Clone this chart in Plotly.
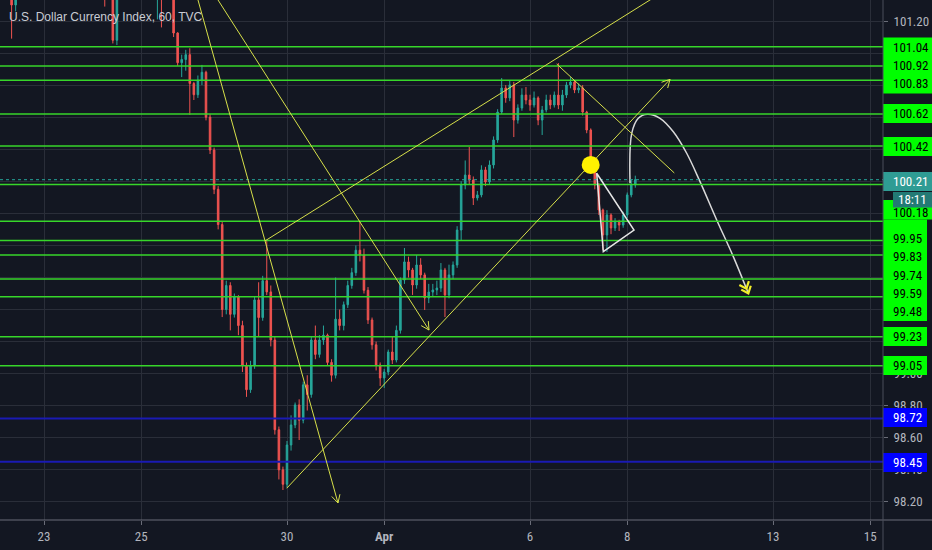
import math
import plotly.graph_objects as go

# ---------------- data ----------------
title_text = "U.S. Dollar Currency Index, 60, TVC"
# 2-hour bars, position in trading hours since 23 Mar 00:00 (weekends removed)
bar_hours = list(range(-20, 294, 2))
first_open = 101.85
closes = [
    101.92, 101.70, 101.30, 101.58, 101.74, 101.86, 102.05, 101.96, 102.18, 102.30,
    102.42, 102.20, 102.05, 101.82, 101.66, 101.78, 101.95, 102.14, 102.30, 102.22,
    102.08, 101.90, 101.74, 101.60, 101.52, 101.48, 101.56, 101.08, 101.45, 101.66,
    101.80, 101.92, 101.84, 101.70, 101.62, 101.74, 101.58, 101.44, 101.52, 101.36,
    101.55, 101.48, 101.125, 100.94, 100.96, 100.99, 100.81, 100.74, 100.83, 100.88,
    100.60, 100.395, 100.15, 99.93, 99.40, 99.55, 99.37, 99.48, 99.30, 99.05,
    98.90, 99.05, 99.46, 99.35, 99.58, 99.51, 99.21, 98.65, 98.40, 98.31,
    98.555, 98.68, 98.805, 98.71, 98.93, 98.87, 99.21, 99.12, 99.21, 99.24,
    99.07, 98.99, 99.34, 99.30, 99.43, 99.55, 99.63, 99.77, 99.74, 99.52,
    99.335, 99.18, 99.054, 98.973, 99.01, 99.135, 99.085, 99.27, 99.584, 99.697,
    99.647, 99.553, 99.678, 99.616, 99.472, 99.509, 99.522, 99.534, 99.647, 99.491,
    99.616, 99.678, 99.896, 100.177, 100.239, 100.208, 100.096, 100.115, 100.271, 100.196,
    100.302, 100.458, 100.632, 100.782, 100.72, 100.801, 100.582, 100.657, 100.738, 100.707,
    100.676, 100.72, 100.582, 100.645, 100.707, 100.676, 100.738, 100.676, 100.738, 100.801,
    100.819, 100.77, 100.782, 100.632, 100.52, 100.345, 100.177, 100.021, 99.865, 99.99,
    99.909, 99.946, 99.927, 99.99, 100.115, 100.177, 100.21,
]
highs = [
    101.98, 101.95, 101.74, 101.66, 101.82, 101.95, 102.12, 102.10, 102.25, 102.40,
    102.55, 102.48, 102.26, 102.10, 101.88, 101.85, 102.02, 102.22, 102.38, 102.40,
    102.28, 102.12, 101.95, 101.78, 101.66, 101.58, 101.62, 101.60, 101.52, 101.72,
    101.88, 102.00, 102.00, 101.88, 101.76, 101.82, 101.78, 101.62, 101.58, 101.55,
    101.62, 101.62, 101.50, 101.13, 100.99, 101.02, 101.03, 100.82, 100.86, 100.926,
    100.89, 100.62, 100.41, 100.17, 99.95, 99.58, 99.57, 99.50, 99.49, 99.33,
    99.07, 99.08, 99.48, 99.57, 99.61, 99.828, 99.55, 99.23, 98.67, 98.42,
    98.58, 98.74, 98.82, 98.84, 98.95, 98.99, 99.23, 99.30, 99.24, 99.30,
    99.25, 99.09, 99.60, 99.40, 99.45, 99.58, 99.66, 99.80, 99.95, 99.78,
    99.54, 99.35, 99.20, 99.07, 99.03, 99.15, 99.23, 99.30, 99.60, 99.784,
    99.73, 99.66, 99.74, 99.72, 99.63, 99.56, 99.56, 99.58, 99.69, 99.66,
    99.68, 99.70, 99.92, 100.20, 100.33, 100.414, 100.23, 100.14, 100.30, 100.29,
    100.33, 100.48, 100.65, 100.844, 100.80, 100.832, 100.82, 100.68, 100.78, 100.788,
    100.74, 100.76, 100.73, 100.67, 100.74, 100.74, 100.76, 100.938, 100.77, 100.82,
    100.85, 100.83, 100.81, 100.80, 100.64, 100.53, 100.35, 100.19, 100.03, 100.02,
    100.00, 99.97, 99.96, 100.01, 100.13, 100.21, 100.235,
]
lows = [
    101.80, 101.62, 101.09, 101.26, 101.55, 101.70, 101.84, 101.90, 101.93, 102.14,
    102.25, 102.12, 101.96, 101.74, 101.55, 101.60, 101.72, 101.90, 102.08, 102.15,
    102.00, 101.82, 101.66, 101.50, 101.42, 101.29, 101.40, 101.06, 101.05, 101.40,
    101.60, 101.74, 101.78, 101.62, 101.55, 101.56, 101.50, 101.38, 101.21, 101.16,
    101.34, 101.40, 101.10, 100.92, 100.85, 100.89, 100.614, 100.707, 100.72, 100.80,
    100.58, 100.37, 100.12, 99.90, 99.353, 99.37, 99.27, 99.35, 99.24, 99.01,
    98.855, 98.88, 99.03, 99.23, 99.33, 99.49, 99.17, 98.62, 98.34, 98.274,
    98.29, 98.52, 98.66, 98.586, 98.69, 98.77, 98.85, 99.09, 99.10, 99.18,
    99.05, 98.95, 98.97, 99.27, 99.27, 99.41, 99.53, 99.61, 99.70, 99.50,
    99.31, 99.15, 99.02, 98.923, 98.911, 98.99, 99.06, 99.07, 99.25, 99.56,
    99.60, 99.491, 99.53, 99.59, 99.397, 99.44, 99.48, 99.49, 99.51, 99.353,
    99.47, 99.59, 99.66, 99.834, 100.15, 100.18, 100.052, 100.08, 100.10, 100.17,
    100.18, 100.28, 100.44, 100.62, 100.69, 100.70, 100.476, 100.56, 100.64, 100.68,
    100.64, 100.66, 100.55, 100.489, 100.63, 100.65, 100.66, 100.65, 100.64, 100.72,
    100.78, 100.75, 100.75, 100.61, 100.50, 100.32, 100.15, 99.99, 99.771, 99.759,
    99.87, 99.89, 99.89, 99.91, 99.97, 100.10, 100.16,
]
day_ticks = [0, 2, 5, 7, 10, 12, 15, 17]
day_labels = ["23", "25", "30", "<b>Apr</b>", "6", "8", "13", "15"]
price_ticks = [98.20, 98.40, 98.60, 98.80, 99.00, 99.20, 99.40, 99.60, 99.80,
               100.00, 100.20, 100.40, 100.60, 100.80, 101.00, 101.20]
# ticks whose label is completely hidden behind a price-label box in the reference
hidden_ticks = [99.20, 99.40, 99.60, 99.80, 100.00, 100.20, 100.40, 100.60, 100.80, 101.00]
green_levels = [101.04, 100.92, 100.83, 100.62, 100.42, 100.18, 99.95, 99.83,
                99.74, 99.59, 99.48, 99.23, 99.05]
blue_levels = [98.72, 98.45]
last_price = 100.21
countdown = "18:11"

# drawings anchored in (trading day, price)
trend_lines = [  # (start, end, arrow at end)
    ((3.10, 101.406), (6.049, 98.193), True),
    ((3.45, 101.393), (7.922, 99.272), True),
    ((4.547, 99.828), (12.80, 101.394), False),
    ((4.994, 98.285), (12.881, 100.836), True),
    ((10.549, 100.932), (12.969, 100.252), False),
]
dot_point = (11.249, 100.302)
triangle_pts = [(11.372, 100.250), (11.508, 99.761), (12.140, 99.896)]
path_x = [12.058, 12.093, 12.228, 12.414, 12.675, 12.949, 13.224, 13.498, 13.841, 14.183, 14.492]
path_y = [100.188, 100.499, 100.593, 100.618, 100.593, 100.509, 100.375, 100.198, 99.959, 99.730, 99.501]

# ---------------- styling / layout ----------------
W, H = 932, 550
ML, MR, MT, MB = 0, 49, 0, 30
PW, PH = W - ML - MR, H - MT - MB
XR = [-0.9053, 17.263]
YR = [98.087, 101.331]
sx = PW / (XR[1] - XR[0])
sy = PH / (YR[1] - YR[0])

BG = "#131722"
GRID = "#2a2e39"
AXIS_TXT = "#b2b5be"
UP, DOWN = "#26a69a", "#ef5350"
GREEN_LINE = "#37d62a"
GREEN_BOX = "#00ff00"
BLUE_LINE = "#1a1ab4"
BLUE_BOX = "#0000ff"
YEL = "#d7e04a"
NARROW = "Liberation Sans Narrow, Arial Narrow, Roboto Condensed, Roboto, sans-serif"

x_days = [h / 24 for h in bar_hours]
opens = [first_open] + closes[:-1]

fig = go.Figure()
fig.add_trace(go.Candlestick(
    x=x_days, open=opens, high=highs, low=lows, close=closes,
    increasing=dict(line=dict(color=UP, width=1), fillcolor=UP),
    decreasing=dict(line=dict(color=DOWN, width=1), fillcolor=DOWN),
    whiskerwidth=0, hoverinfo="skip", showlegend=False,
))
fig.add_trace(go.Scatter(
    x=path_x, y=path_y, mode="lines", line=dict(color="#d9d9d9", width=1.5, shape="spline"),
    hoverinfo="skip", showlegend=False,
))

shapes = []
for lvl in green_levels:
    shapes.append(dict(type="line", xref="paper", yref="y", x0=0, x1=1, y0=lvl, y1=lvl,
                       line=dict(color=GREEN_LINE, width=1.5), layer="above"))
for lvl in blue_levels:
    shapes.append(dict(type="line", xref="paper", yref="y", x0=0, x1=1, y0=lvl, y1=lvl,
                       line=dict(color=BLUE_LINE, width=2), layer="above"))
shapes.append(dict(type="line", xref="paper", yref="y", x0=0, x1=1, y0=last_price, y1=last_price,
                   line=dict(color=UP, width=1, dash="dot"), layer="above"))


def vhead(p0, p1, L=9.0, ang=28.0, color=YEL, width=1.0):
    dx = (p1[0] - p0[0]) * sx
    dy = (p1[1] - p0[1]) * sy
    n = math.hypot(dx, dy)
    ux, uy = dx / n, dy / n
    pts = []
    for s in (1, -1):
        a = math.radians(ang) * s
        bx = -ux * math.cos(a) + uy * math.sin(a)
        by = -ux * math.sin(a) - uy * math.cos(a)
        pts.append((p1[0] + bx * L / sx, p1[1] + by * L / sy))
    path = "M{},{} L{},{} L{},{}".format(pts[0][0], pts[0][1], p1[0], p1[1], pts[1][0], pts[1][1])
    return dict(type="path", xref="x", yref="y", path=path,
                line=dict(color=color, width=width), layer="above")


for p0, p1, arrow in trend_lines:
    shapes.append(dict(type="line", xref="x", yref="y", x0=p0[0], y0=p0[1], x1=p1[0], y1=p1[1],
                       line=dict(color=YEL, width=1), layer="above"))
    if arrow:
        shapes.append(vhead(p0, p1))

# white triangle
tp = triangle_pts
shapes.append(dict(type="path", xref="x", yref="y",
                   path="M{},{} L{},{} L{},{} Z".format(tp[0][0], tp[0][1], tp[1][0], tp[1][1], tp[2][0], tp[2][1]),
                   line=dict(color="#e6e6e6", width=1.5), layer="above"))

# double chevron at the end of the projected path
pa = (path_x[-2], path_y[-2])
pb = (path_x[-1], path_y[-1])
dxp = (pb[0] - pa[0]) * sx
dyp = (pb[1] - pa[1]) * sy
nn = math.hypot(dxp, dyp)
back = (pb[0] - dxp / nn * 5 / sx, pb[1] - dyp / nn * 5 / sy)
shapes.append(vhead(pa, back, L=8, ang=40, color="#f2ee2a", width=2.2))
shapes.append(vhead(pa, pb, L=8, ang=40, color="#f2ee2a", width=2.2))

# yellow dot
shapes.append(dict(type="circle", xref="x", yref="y", xsizemode="pixel", ysizemode="pixel",
                   xanchor=dot_point[0], yanchor=dot_point[1], x0=-9, x1=9, y0=-9, y1=9,
                   fillcolor="#fff200", line=dict(width=0), layer="above"))


# ---- right-hand price labels (pixel layout) ----
def px_x(px):
    return (px - ML) / PW


def px_y(py):
    return 1 - (py - MT) / PH


TEAL_BOX = "#2f9c94"
TEAL_DARK = "#237a75"
label_boxes = [
    (883, 932, 37.5, 93.5, GREEN_BOX),
    (883, 932, 104, 123, GREEN_BOX),
    (883, 932, 137, 156, GREEN_BOX),
    (883, 932, 172, 191, TEAL_BOX),
    (883, 932, 200, 219.5, GREEN_BOX),
    (883, 927, 219.5, 321, GREEN_BOX),
    (883, 927, 327, 346, GREEN_BOX),
    (883, 927, 356, 375, GREEN_BOX),
    (883, 927, 408, 427, BLUE_BOX),
    (883, 927, 453, 472, BLUE_BOX),
    (893, 932, 192, 207.5, TEAL_DARK),
]
for x0, x1, y0, y1, col in label_boxes:
    shapes.append(dict(type="rect", xref="paper", yref="paper", x0=px_x(x0), x1=px_x(x1),
                       y0=px_y(y1), y1=px_y(y0), fillcolor=col, line=dict(width=0), layer="above"))

# axis separators
shapes.append(dict(type="line", xref="paper", yref="paper", x0=0, x1=W / PW, y0=0, y1=0,
                   line=dict(color="#6a6d78", width=1), layer="above"))
shapes.append(dict(type="line", xref="paper", yref="paper", x0=1, x1=1, y0=-MB / PH, y1=1,
                   line=dict(color="#4a4e5a", width=1), layer="above"))

label_y = [47, 65.7, 84, 113.5, 146.5, 212, 238.3, 256.7, 275, 293.3, 311.7, 336.5, 365.5]
annotations = []
for lvl, ly in zip(green_levels, label_y):
    annotations.append(dict(text="{:.2f}".format(lvl), xref="paper", yref="paper",
                            x=px_x(891), y=px_y(ly), xanchor="left", yanchor="middle",
                            showarrow=False, font=dict(family=NARROW, size=13, color="#000000")))
for lvl, ly in zip(blue_levels, [417.5, 462.5]):
    annotations.append(dict(text="{:.2f}".format(lvl), xref="paper", yref="paper",
                            x=px_x(891), y=px_y(ly), xanchor="left", yanchor="middle",
                            showarrow=False, font=dict(family=NARROW, size=13, color="#ffffff")))
annotations.append(dict(text="{:.2f}".format(last_price), xref="paper", yref="paper",
                        x=px_x(891), y=px_y(181.5), xanchor="left", yanchor="middle",
                        showarrow=False, font=dict(family=NARROW, size=13, color="#ffffff")))
annotations.append(dict(text=countdown, xref="paper", yref="paper",
                        x=px_x(912.5), y=px_y(199.8), xanchor="center", yanchor="middle",
                        showarrow=False, font=dict(family=NARROW, size=13, color="#ffffff")))
annotations.append(dict(text=title_text, xref="paper", yref="paper",
                        x=px_x(7), y=px_y(17), xanchor="left", yanchor="middle",
                        showarrow=False,
                        font=dict(family="Liberation Sans, Arial, sans-serif", size=12, color="#c9ccd4")))

tick_text = ["" if v in hidden_ticks else "{:.2f}".format(v) for v in price_ticks]

fig.update_layout(
    width=W, height=H,
    margin=dict(l=ML, r=MR, t=MT, b=MB, pad=0),
    paper_bgcolor=BG, plot_bgcolor=BG,
    showlegend=False,
    boxgap=0.45,
    shapes=shapes,
    annotations=annotations,
    xaxis=dict(
        range=XR, rangeslider=dict(visible=False),
        tickmode="array", tickvals=day_ticks, ticktext=day_labels,
        showgrid=True, gridcolor=GRID, gridwidth=1, zeroline=False,
        showline=False, ticks="outside", ticklen=4, tickcolor="#6a6d78",
        tickfont=dict(family=NARROW, size=13, color=AXIS_TXT),
        fixedrange=True,
    ),
    yaxis=dict(
        range=YR, side="right",
        tickmode="array", tickvals=price_ticks, ticktext=tick_text,
        showgrid=True, gridcolor=GRID, gridwidth=1, zeroline=False,
        showline=False, ticks="outside", ticklen=4, tickcolor="#6a6d78",
        ticklabelstandoff=3,
        tickfont=dict(family=NARROW, size=13, color=AXIS_TXT),
        fixedrange=True,
    ),
)

fig.write_html(
    "out.html",
    config={"displayModeBar": False},
    post_script="document.body.style.margin='0';document.body.style.overflow='hidden';",
)
